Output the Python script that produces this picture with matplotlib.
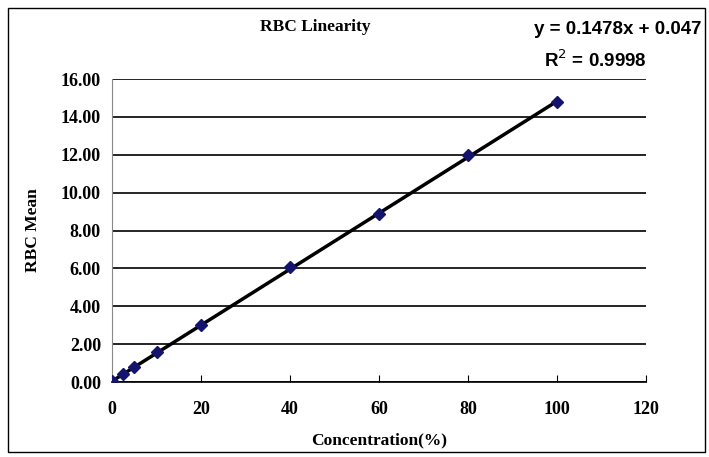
import numpy as np
import matplotlib.pyplot as plt
from matplotlib.patches import Rectangle

concentration = [0, 2.5, 5, 10, 20, 40, 60, 80, 100]
rbc_mean = [0.05, 0.45, 0.8, 1.6, 3.0, 6.05, 8.9, 12.0, 14.8]
slope = 0.1478
intercept = 0.047

serif = "Liberation Serif"

fig = plt.figure(figsize=(7.09, 4.57), dpi=100)
ax = fig.add_axes([0.158, 0.164, 0.753, 0.663])

# trend line
xs = np.array([0, 100])
ax.plot(xs, slope * xs + intercept, color="black", lw=2.5, zorder=2)
ax.plot(concentration, rbc_mean, linestyle="none", marker="D", markersize=6.5,
        color="#14146e", zorder=3)

ax.set_xlim(0, 120)
ax.set_ylim(0, 16)
ax.set_xticks(range(0, 121, 20))
ax.set_yticks(np.arange(0, 16.1, 2))
ax.set_yticklabels([f"{v:.2f}" for v in np.arange(0, 16.1, 2)])
ax.yaxis.grid(True, color="black", lw=1.2)
ax.set_axisbelow(True)
for s in ["top", "right"]:
    ax.spines[s].set_visible(False)
ax.spines["left"].set_color("#888888")
ax.spines["bottom"].set_color("black")
ax.spines["bottom"].set_linewidth(1.2)
ax.tick_params(axis="x", direction="in", length=5, pad=14)
ax.tick_params(axis="y", length=0, pad=8)
for lab in ax.get_xticklabels() + ax.get_yticklabels():
    lab.set_fontfamily(serif)
    lab.set_fontweight("bold")
    lab.set_fontsize(13)

ax.set_xlabel("Concentration(%)", fontfamily=serif, fontweight="bold", fontsize=12.5, labelpad=10)
ax.set_ylabel("RBC Mean", fontfamily=serif, fontweight="bold", fontsize=12.5, labelpad=14)

fig.text(0.445, 0.94, "RBC Linearity", fontfamily=serif, fontweight="bold",
         fontsize=12.5, ha="center", va="center")
fig.text(0.99, 0.935, "y = 0.1478x + 0.047", fontfamily="Liberation Sans",
         fontweight="bold", fontsize=13.5, ha="right", va="center")
fig.text(0.84, 0.868, "R$^2$ = 0.9998", fontfamily="Liberation Sans",
         fontweight="bold", fontsize=13.5, ha="center", va="center")

fig.patches.append(Rectangle((0.011, 0.011), 0.983, 0.972, transform=fig.transFigure,
                             fill=False, edgecolor="black", lw=1))

fig.savefig("out.png", dpi=100)
